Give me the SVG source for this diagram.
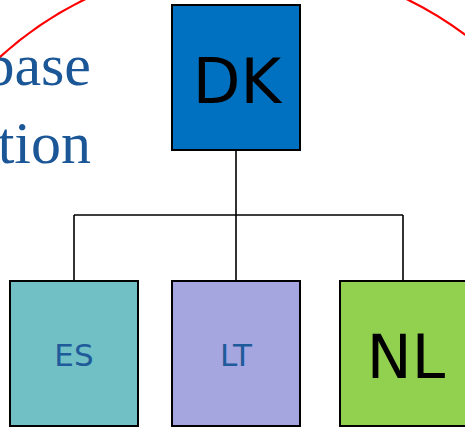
<svg xmlns="http://www.w3.org/2000/svg" width="465" height="428" viewBox="0 0 465 428">
<style>
.box{stroke:#000;stroke-width:2}
.conn{stroke:#000;stroke-width:1.6;fill:none}
.big{font-family:"DejaVu Sans",sans-serif;fill:#000;text-anchor:middle}
.small{font-family:"DejaVu Sans",sans-serif;fill:#1F5A9A;text-anchor:middle;font-size:31px}
.title{font-family:"Liberation Serif",serif;fill:#1B5796;font-size:60px;text-anchor:end}
</style>
<rect width="465" height="428" fill="#fff"/>
<circle cx="246" cy="328" r="366" fill="none" stroke="#FF0000" stroke-width="2.2"/>
<text class="title" x="91" y="85">base</text>
<text class="title" x="91" y="163">tion</text>
<g id="connectors">
<path class="conn" d="M236,150 V215 M74,215 H403 M74,215 V281 M236,215 V281 M403,215 V281"/>
</g>
<g id="DK">
<rect class="box" x="172" y="5" width="128" height="145" fill="#0070C0"/>
<text class="big" x="237" y="103" font-size="62">DK</text>
</g>
<g id="ES">
<rect class="box" x="10" y="281" width="128" height="145" fill="#71C0C6"/>
<text class="small" x="74" y="366">ES</text>
</g>
<g id="LT">
<rect class="box" x="172" y="281" width="128" height="145" fill="#A5A5E0"/>
<text class="small" x="236" y="366">LT</text>
</g>
<g id="NL">
<rect class="box" x="340" y="281" width="128" height="145" fill="#92D050"/>
<text class="big" x="406" y="378" font-size="60">NL</text>
</g>
</svg>
